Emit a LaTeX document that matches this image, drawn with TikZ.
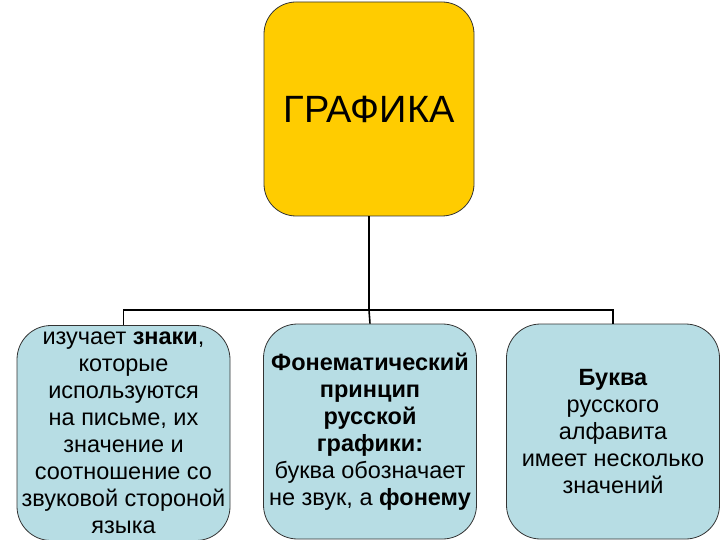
\documentclass[tikz,border=0pt]{standalone}
\usepackage{fontspec}
\setmainfont{Liberation Sans}
\usetikzlibrary{positioning}
\definecolor{grafyellow}{RGB}{255,204,0}
\definecolor{boxblue}{RGB}{183,221,228}

\begin{document}
\begin{tikzpicture}[x=1pt, y=-1pt,
  topbox/.style={draw=black!80, line width=0.8pt, fill=grafyellow, rounded corners=32pt,
    minimum width=210pt, minimum height=214pt, inner sep=0pt,
    font=\fontsize{38}{44}\selectfont},
  subbox/.style={draw=black!80, line width=0.8pt, fill=boxblue, rounded corners=34pt,
    minimum width=213pt, minimum height=215pt, inner sep=0pt, align=center,
    font=\fontsize{23.5}{27}\selectfont},
  link/.style={line width=1.6pt}]
  \useasboundingbox (0,0) rectangle (720,540);
  \node[topbox] (grafika) at (369,109) {ГРАФИКА};
  \node[subbox] (znaki) at (123.5,433) {изучает \textbf{знаки},\\которые\\используются\\на письме, их\\значение и\\соотношение со\\звуковой стороной\\языка};
  \node[subbox] (princip) at (370,431.5) {\textbf{Фонематический}\\\textbf{принцип}\\\textbf{русской}\\\textbf{графики:}\\буква обозначает\\не звук, а \textbf{фонему}};
  \node[subbox] (bukva) at (613,431.5) {\textbf{Буква}\\русского\\алфавита\\имеет несколько\\значений};
  \coordinate (razvilka) at (369,310);
  % connectors
  \draw[link] (grafika.south) -- (razvilka);
  \draw[link] (znaki.north) |- (razvilka) -| (bukva.north);
  \draw[link] (razvilka) -- (princip.north);
\end{tikzpicture}
\end{document}
